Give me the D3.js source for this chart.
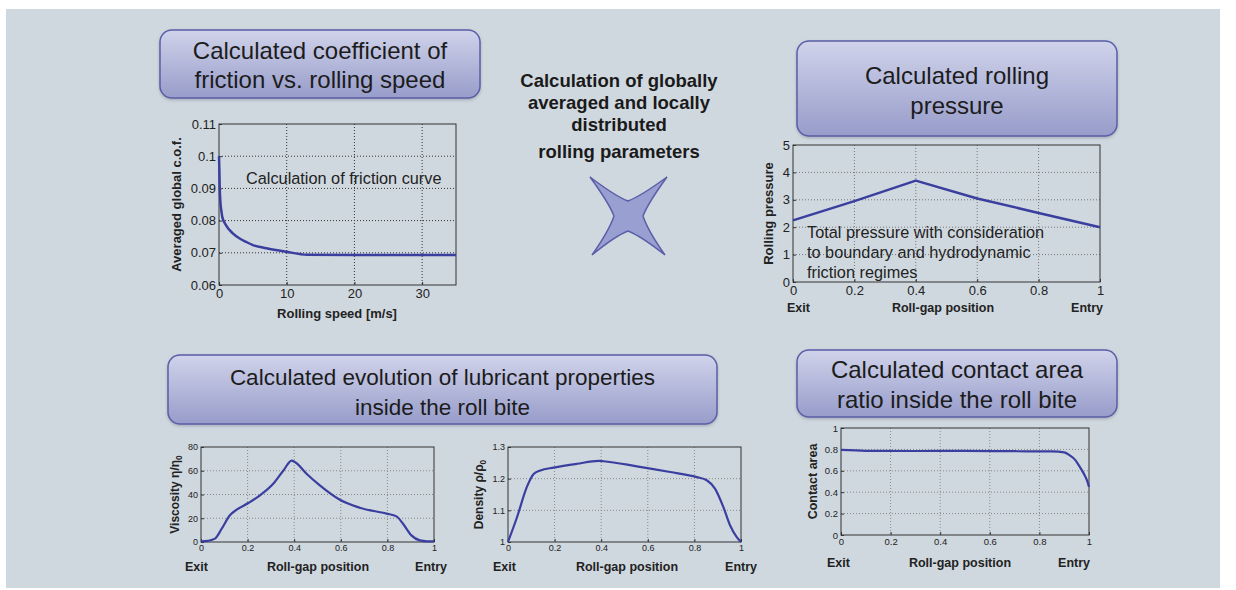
<!DOCTYPE html>
<html><head><meta charset="utf-8">
<script src="https://cdn.jsdelivr.net/npm/d3@7"></script>
<style>body{margin:0;background:#fff}svg{display:block;font-family:"Liberation Sans",Arial,sans-serif}</style>
</head><body><svg id="c" width="1236" height="590"></svg>
<script>
// ---------- DATA ----------
const cofSpeed = [0,0.05,0.1,0.2,0.35,0.5,1,2,3,4,5,7,10,13,20,35];
const cofValue = [0.100,0.096,0.091,0.086,0.083,0.081,0.0787,0.0761,0.0745,0.0734,0.0724,0.0714,0.0703,0.0694,0.0693,0.0693];
const cofXTicks = [0,10,20,30];
const cofYTicks = [0.06,0.07,0.08,0.09,0.1,0.11];
const cofYLabels = ["0.06","0.07","0.08","0.09","0.1","0.11"];

const pressPos = [0,0.2,0.4,0.6,0.8,1];
const pressValue = [2.25,2.95,3.7,3.05,2.52,2.0];
const pressYTicks = [0,1,2,3,4,5];

const viscPos = [0,0.03,0.06,0.089,0.124,0.153,0.203,0.253,0.31,0.353,0.389,0.403,0.453,0.51,0.596,0.681,0.796,0.839,0.867,0.903,0.939,0.97,1];
const viscValue = [0.5,1,2.8,11.2,22.5,27.2,32.8,39.3,49,60,68.5,67.4,57.5,47.7,35.6,28.9,23.9,21.6,15.4,5.6,1.4,0.6,0.5];
const viscYTicks = [0,20,40,60,80];

const densPos = [0,0.039,0.081,0.11,0.139,0.196,0.296,0.389,0.41,0.553,0.696,0.81,0.853,0.889,0.924,0.953,0.981,1];
const densValue = [1.0,1.079,1.174,1.215,1.226,1.235,1.247,1.256,1.255,1.239,1.221,1.205,1.195,1.168,1.111,1.053,1.016,1.0];
const densYTicks = [1,1.1,1.2,1.3];
const densYLabels = ["1","1.1","1.2","1.3"];

const contPos = [0,0.1,0.3,0.5,0.7,0.85,0.9,0.922,0.945,0.962,0.975,0.982,0.992,1];
const contValue = [0.795,0.787,0.785,0.786,0.783,0.781,0.772,0.745,0.70,0.64,0.59,0.56,0.51,0.45];
const contYTicks = [0,0.2,0.4,0.6,0.8,1];
const contYLabels = ["0","0.2","0.4","0.6","0.8","1"];

const gapTicks = [0,0.2,0.4,0.6,0.8,1];
const gapLabels = ["0","0.2","0.4","0.6","0.8","1"];

const titles = [
  ["Calculated coefficient of","friction vs. rolling speed"],
  ["Calculated rolling","pressure"],
  ["Calculated evolution of lubricant properties","inside the roll bite"],
  ["Calculated contact area","ratio inside the roll bite"]
];
const centerText = ["Calculation of globally","averaged and locally","distributed","rolling parameters"];

// ---------- DRAW ----------
const svg = d3.select("#c");
const defs = svg.append("defs");
const grad = defs.append("linearGradient").attr("id","bg").attr("x1",0).attr("y1",0).attr("x2",0).attr("y2",1);
grad.append("stop").attr("offset","0%").attr("stop-color","#d0d3ea");
grad.append("stop").attr("offset","100%").attr("stop-color","#979cca");
const sh = defs.append("filter").attr("id","sh").attr("x","-10%").attr("y","-10%").attr("width","120%").attr("height","130%");
sh.append("feDropShadow").attr("dx",0).attr("dy",1.5).attr("stdDeviation",1.5).attr("flood-color","#7a8090").attr("flood-opacity",0.5);

svg.append("rect").attr("x",6).attr("y",9).attr("width",1214).attr("height",579).attr("fill","#d0d8df");

const boxGeo = [
  {x:160,y:30,w:320,h:68,ly:[50,79],fs:24},
  {x:797,y:41,w:320,h:95,ly:[75,105],fs:24},
  {x:168,y:355,w:549,h:69,ly:[377,407],fs:22.5},
  {x:797,y:350,w:320,h:67,ly:[369,399],fs:24}
];
titles.forEach((t,i)=>{
  const b = boxGeo[i];
  svg.append("rect").attr("x",b.x).attr("y",b.y).attr("width",b.w).attr("height",b.h)
    .attr("rx",12).attr("fill","url(#bg)").attr("stroke","#5a5ea8").attr("stroke-width",1.5).attr("filter","url(#sh)");
  t.forEach((l,j)=>{
    svg.append("text").attr("x",b.x+b.w/2).attr("y",b.ly[j]).attr("dy","0.36em")
      .attr("text-anchor","middle").attr("font-size",b.fs).attr("fill","#1c1c1c").text(l);
  });
});

const cy = [80,102,124,151];
centerText.forEach((l,i)=>{
  svg.append("text").attr("x",619).attr("y",cy[i]).attr("dy","0.36em").attr("text-anchor","middle")
    .attr("font-size",18.5).attr("font-weight","bold").attr("fill","#1a1a1a").text(l);
});

// star
const star = d3.path();
star.moveTo(590,177);
star.quadraticCurveTo(615,196,628,201);
star.quadraticCurveTo(641,196,667,177);
star.quadraticCurveTo(648,203,643,216);
star.quadraticCurveTo(648,231,665,255);
star.quadraticCurveTo(641,236,628,231);
star.quadraticCurveTo(615,236,592,255);
star.quadraticCurveTo(609,231,614,216);
star.quadraticCurveTo(609,203,590,177);
star.closePath();
svg.append("path").attr("d",star.toString()).attr("fill","#9a9fd2").attr("stroke","#5a5fa8").attr("stroke-width",1.5);

function chart(o){
  const g = svg.append("g");
  const x = d3.scaleLinear().domain(o.xd).range([o.l,o.r]);
  const y = d3.scaleLinear().domain(o.yd).range([o.b,o.t]);
  g.selectAll(".gx").data(o.xt.filter(v=>v>o.xd[0]&&v<o.xd[1])).enter().append("line")
    .attr("x1",d=>x(d)).attr("x2",d=>x(d)).attr("y1",o.t).attr("y2",o.b)
    .attr("stroke",o.gc).attr("stroke-width",1).attr("stroke-dasharray","1,2");
  g.selectAll(".gy").data(o.yt.filter(v=>v>o.yd[0]&&v<o.yd[1])).enter().append("line")
    .attr("y1",d=>y(d)).attr("y2",d=>y(d)).attr("x1",o.l).attr("x2",o.r)
    .attr("stroke",o.gc).attr("stroke-width",1).attr("stroke-dasharray","1,2");
  const ax = g.append("g").attr("transform",`translate(0,${o.b})`)
    .call(d3.axisBottom(x).tickValues(o.xt).tickFormat((d,i)=>o.xl[i]).tickSizeInner(-3).tickSizeOuter(0).tickPadding(o.fs*0.3));
  const ay = g.append("g").attr("transform",`translate(${o.l},0)`)
    .call(d3.axisLeft(y).tickValues(o.yt).tickFormat((d,i)=>o.yl[i]).tickSizeInner(-3).tickSizeOuter(0).tickPadding(3));
  [ax,ay].forEach(a=>{
    a.select(".domain").remove();
    a.selectAll("text").attr("font-size",o.fs).attr("fill","#222").attr("font-family","Liberation Sans, Arial, sans-serif");
    a.selectAll("line").attr("stroke","#333");
  });
  ax.selectAll(".tick text").attr("dy","0.71em");
  g.append("rect").attr("x",o.l).attr("y",o.t).attr("width",o.r-o.l).attr("height",o.b-o.t)
    .attr("fill","none").attr("stroke","#333").attr("stroke-width",1);
  const line = d3.line().x(d=>x(d[0])).y(d=>y(d[1])).curve(o.curve);
  g.append("path").datum(o.xs.map((v,i)=>[v,o.ys[i]])).attr("d",line)
    .attr("fill","none").attr("stroke","#3a3f9f").attr("stroke-width",o.lw).attr("stroke-linejoin","round");
  const yl = g.append("text").attr("transform",`translate(${o.ylx},${(o.t+o.b)/2}) rotate(-90)`)
    .attr("text-anchor","middle").attr("dy","0.36em").attr("font-size",o.lfs).attr("font-weight","bold").attr("fill","#222");
  if(typeof o.ylab === "object"){
    yl.append("tspan").text(o.ylab.main);
    yl.append("tspan").attr("font-size",o.lfs*0.7).attr("dy","0.35em").text(o.ylab.sub);
  } else yl.text(o.ylab);
  return {x,y};
}

chart({xd:[0,35],yd:[0.06,0.11],l:219,r:456,t:124,b:285,xt:cofXTicks,xl:cofXTicks.map(String),yt:cofYTicks,yl:cofYLabels,
  xs:cofSpeed,ys:cofValue,fs:13,gc:"#333",curve:d3.curveMonotoneX,lw:2.5,ylx:176,ylab:"Averaged global c.o.f.",lfs:13});
svg.append("text").attr("x",337).attr("y",313).attr("dy","0.36em").attr("text-anchor","middle").attr("font-size",13).attr("font-weight","bold").attr("fill","#222").text("Rolling speed [m/s]");
svg.append("text").attr("x",246).attr("y",178).attr("dy","0.36em").attr("font-size",16.3).attr("fill","#222").text("Calculation of friction curve");

chart({xd:[0,1],yd:[0,5],l:793,r:1100,t:145,b:282,xt:gapTicks,xl:gapLabels,yt:pressYTicks,yl:pressYTicks.map(String),
  xs:pressPos,ys:pressValue,fs:13,gc:"#777",curve:d3.curveLinear,lw:2.5,ylx:768,ylab:"Rolling pressure",lfs:13});
["Total pressure with consideration","to boundary and hydrodynamic","friction regimes"].forEach((l,i)=>{
  svg.append("text").attr("x",807).attr("y",232+i*20).attr("dy","0.36em").attr("font-size",16.3).attr("fill","#222").text(l);
});

chart({xd:[0,1],yd:[0,80],l:201,r:434,t:447,b:542,xt:gapTicks,xl:gapLabels,yt:viscYTicks,yl:viscYTicks.map(String),
  xs:viscPos,ys:viscValue,fs:9,gc:"#888",curve:d3.curveMonotoneX,lw:2.2,ylx:175,ylab:{main:"Viscosity η/η",sub:"0"},lfs:12});
chart({xd:[0,1],yd:[1,1.3],l:508,r:741,t:447,b:542,xt:gapTicks,xl:gapLabels,yt:densYTicks,yl:densYLabels,
  xs:densPos,ys:densValue,fs:9,gc:"#888",curve:d3.curveMonotoneX,lw:2.2,ylx:479,ylab:{main:"Density ρ/ρ",sub:"0"},lfs:12});
chart({xd:[0,1],yd:[0,1],l:841,r:1089,t:428,b:535,xt:gapTicks,xl:gapLabels,yt:contYTicks,yl:contYLabels,
  xs:contPos,ys:contValue,fs:9.5,gc:"#888",curve:d3.curveMonotoneX,lw:2.2,ylx:812,ylab:"Contact area",lfs:12.5});

const gapLab = [
  {ex:787,cx:943,en:1103,y:307},
  {ex:185,cx:318,en:447,y:566},
  {ex:493,cx:627,en:757,y:566},
  {ex:827,cx:960,en:1090,y:562}
];
gapLab.forEach(p=>{
  svg.append("text").attr("x",p.ex).attr("y",p.y).attr("dy","0.36em").attr("font-size",12.5).attr("font-weight","bold").attr("fill","#222").text("Exit");
  svg.append("text").attr("x",p.cx).attr("y",p.y).attr("dy","0.36em").attr("text-anchor","middle").attr("font-size",12.5).attr("font-weight","bold").attr("fill","#222").text("Roll-gap position");
  svg.append("text").attr("x",p.en).attr("y",p.y).attr("dy","0.36em").attr("text-anchor","end").attr("font-size",12.5).attr("font-weight","bold").attr("fill","#222").text("Entry");
});
</script></body></html>
